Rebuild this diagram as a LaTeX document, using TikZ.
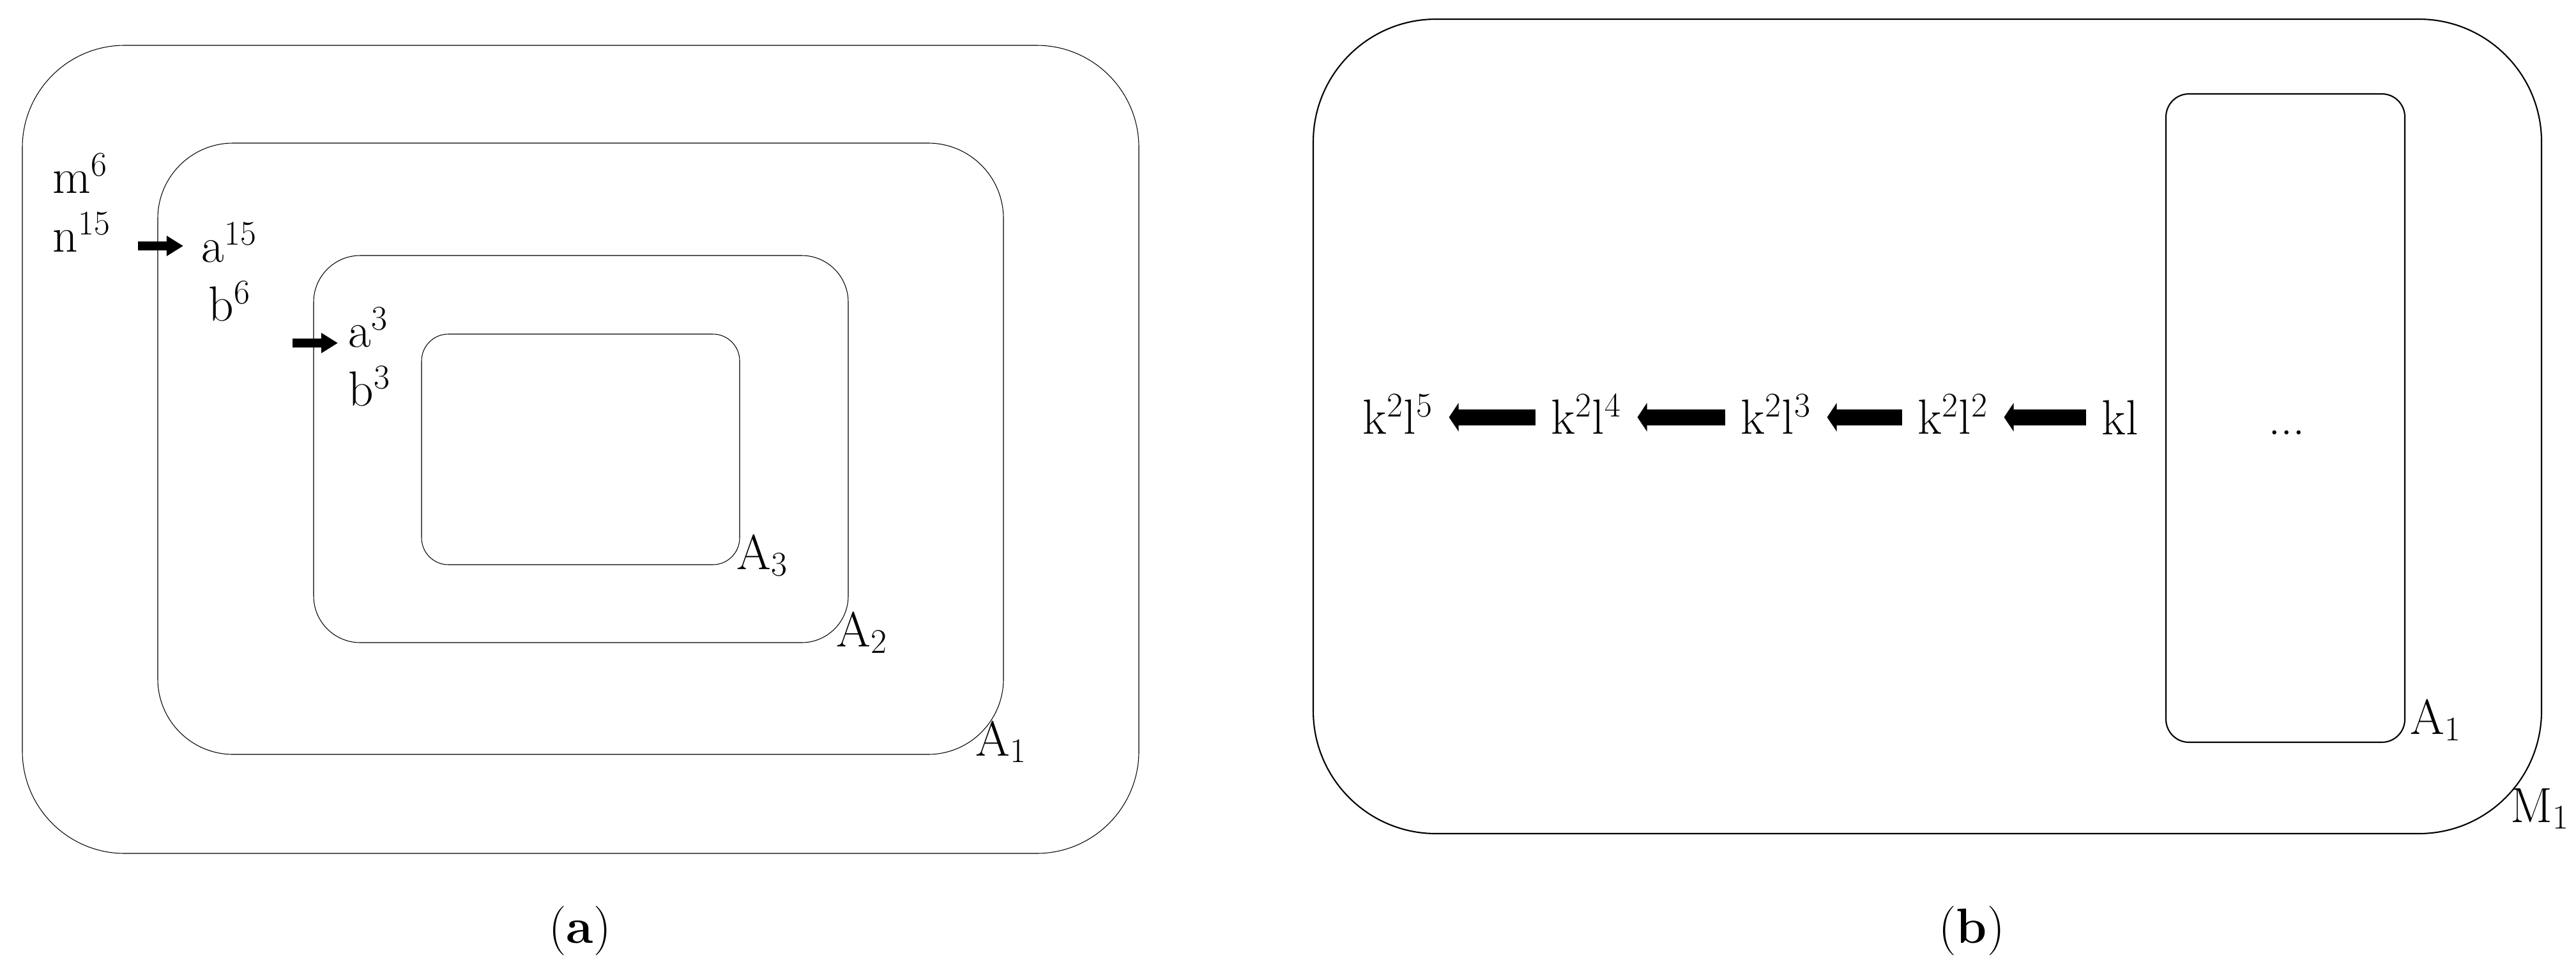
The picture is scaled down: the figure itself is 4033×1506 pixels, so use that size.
\documentclass[tikz,border=0pt]{standalone}
\usepackage{fontspec}
\usetikzlibrary{arrows.meta}
\tikzset{
    region/.style={draw,line width=0.3pt,rounded corners=#1},
    bigregion/.style={draw,line width=0.6pt,rounded corners=#1},
    lbl/.style={inner sep=0pt,anchor=base west,font=\fontsize{22}{26}\selectfont},
    caption/.style={inner sep=0pt,anchor=base,font=\fontsize{22}{26}\selectfont},
    pusharrow/.style={line width=0.147cm,-{Triangle[length=0.26cm,width=0.30cm]}},
    pullarrow/.style={line width=0.25cm,-{Triangle[length=0.15cm,width=0.44cm]},shorten <=0.24cm,shorten >=0.24cm},
}
\begin{document}
\begin{tikzpicture}[x=0.01cm,y=-0.01cm]
        \useasboundingbox (0,0) rectangle (4033,1506);
        % (a) nested regions
        \draw[region=1.6cm] (35,71) rectangle (1783,1336);
        \draw[region=1.18cm] (247,224) rectangle (1571,1181);
        \draw[region=0.73cm] (491,400) rectangle (1328,1006);
        \draw[region=0.42cm] (660,523) rectangle (1158,884);

        \node[lbl] (m6) at (82,302) {m\textsuperscript{6}};
        \node[lbl] (n15) at (82,394) {n\textsuperscript{15}};
        \node[lbl] (a15) at (315,410) {a\textsuperscript{15}};
        \node[lbl] (b6) at (326,502) {b\textsuperscript{6}};
        \node[lbl] (a3) at (545,543) {a\textsuperscript{3}};
        \node[lbl] (b3) at (545,635) {b\textsuperscript{3}};
        \node[lbl] (lA3) at (1153,891) {A\textsubscript{3}};
        \node[lbl] (lA2) at (1309,1012) {A\textsubscript{2}};
        \node[lbl] (lA1) at (1527,1183) {A\textsubscript{1}};

        \coordinate (in15) at (216,385);
        \coordinate (in3) at (458,537);
        \draw[pusharrow,shorten >=0.28cm] (in15) -- (in15 -| a15.west);
        \draw[pusharrow,shorten >=0.16cm] (in3) -- (in3 -| a3.west);

        \node[caption] (capa) at (908,1476) {(\textbf{a})};

        % (b) chain
        \draw[bigregion=1.92cm] (2056,30) rectangle (3979,1305);
        \draw[bigregion=0.36cm] (3391,147) rectangle (3765,1162);

        \node[lbl] (k2l5) at (2133,679) {k\textsuperscript{2}l\textsuperscript{5}};
        \node[lbl] (k2l4) at (2428,679) {k\textsuperscript{2}l\textsuperscript{4}};
        \node[lbl] (k2l3) at (2725,679) {k\textsuperscript{2}l\textsuperscript{3}};
        \node[lbl] (k2l2) at (3002,679) {k\textsuperscript{2}l\textsuperscript{2}};
        \node[lbl] (kl) at (3290,680) {kl};
        \node[caption] (dots) at (3580,680) {...};
        \node[lbl] (lA1b) at (3773,1149) {A\textsubscript{1}};
        \node[lbl] (lM1) at (3930,1287) {M\textsubscript{1}};

        \foreach \from/\to in {kl/k2l2,k2l2/k2l3,k2l3/k2l4,k2l4/k2l5}
            \draw[pullarrow] (\from.west |- kl.west) -- (\to.east |- kl.west);

        \node[caption] (capb) at (3087,1476) {(\textbf{b})};
\end{tikzpicture}
\end{document}
